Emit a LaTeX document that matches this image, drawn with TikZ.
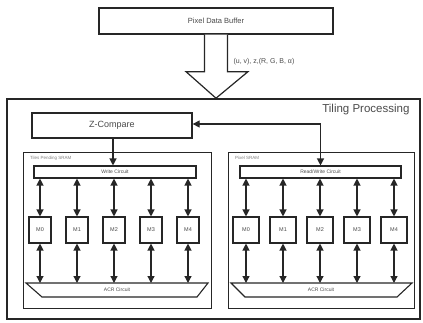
\documentclass[tikz,border=0pt]{standalone}
\usepackage{fontspec}
\setmainfont{Liberation Sans}
\usetikzlibrary{arrows.meta}

\definecolor{ink}{HTML}{262626}
\definecolor{txt}{HTML}{4A4A4A}

\tikzset{
  box/.style={draw=ink, line width=1.3pt, fill=white, inner sep=0pt, text=txt},
  panel/.style={draw=ink, line width=1pt, inner sep=0pt},
  cell/.style={draw=ink, line width=1.1pt, fill=white, inner sep=0pt, text=txt,
               minimum height=26pt, font=\fontsize{5.5}{6}\selectfont},
  link/.style={draw=ink, line width=1.2pt},
  tip/.style={-{Triangle[width=7pt,length=7pt]}},
  twotip/.style={{Triangle[width=7pt,length=7pt]}-{Triangle[width=7pt,length=7pt]}},
  tiny/.style={font=\fontsize{4.5}{5}\selectfont, text=txt!70}
}

\begin{document}
\begin{tikzpicture}[x=1pt, y=-1pt]
\useasboundingbox (0,0) rectangle (423,322);

% input buffer
\node[box, minimum width=234pt, minimum height=26pt, font=\fontsize{7.5}{8}\selectfont]
  (pdb) at (216,21) {Pixel Data Buffer};

% outer tiling processing block
\node[draw=ink, line width=1.6pt, minimum width=413pt, minimum height=220pt, inner sep=0pt]
  (tp) at (213.5,209) {};
\node[anchor=east, text=txt, font=\fontsize{11.5}{12}\selectfont] (tplabel) at (413,110) {Tiling Processing};

% hollow block arrow from the buffer into the tiling block
\coordinate (tip) at (pdb.south |- tp.north);
\draw[draw=ink, line width=1.2pt, fill=white, line join=miter]
  ([xshift=-11.5pt]pdb.south) -- ([xshift=-11.5pt,yshift=-37pt]pdb.south)
  -- ([xshift=-30pt,yshift=-37pt]pdb.south) -- (tip)
  -- ([xshift=32pt,yshift=-37pt]pdb.south) -- ([xshift=11.5pt,yshift=-37pt]pdb.south)
  -- ([xshift=11.5pt]pdb.south);
\node[anchor=west, text=txt, font=\fontsize{7}{8}\selectfont] (data) at (230,62)
  {(u, v), z,(R, G, B, α)};

% Z-compare
\node[box, minimum width=160pt, minimum height=25pt, font=\fontsize{9}{10}\selectfont]
  (zc) at (112,125.5) {Z-Compare};

% SRAM panels
\node[panel, minimum width=188pt, minimum height=156pt] (sramL) at (117,230) {};
\node[panel, minimum width=186pt, minimum height=156pt] (sramR) at (321,230) {};
\node[tiny, anchor=north west] (sramLlabel) at ([xshift=4pt,yshift=-1pt]sramL.north west) {Tiles Pending SRAM};
\node[tiny, anchor=north west] (sramRlabel) at ([xshift=4pt,yshift=-1pt]sramR.north west) {Pixel SRAM};

% write circuits
\node[box, line width=1.1pt, minimum width=162pt, minimum height=12pt, font=\fontsize{5}{6}\selectfont]
  (wc) at (115,172) {Write Circuit};
\node[box, line width=1.1pt, minimum width=161pt, minimum height=12pt, font=\fontsize{5}{6}\selectfont]
  (rw) at (320.5,172) {Read/Write Circuit};

% ACR circuits (inverted trapezoids)
\draw[draw=ink, line width=1.1pt, fill=white] (26,283) -- (208,283) -- (197,297) -- (42,297) -- cycle;
\draw[draw=ink, line width=1.1pt, fill=white] (231,283) -- (412,283) -- (397,297) -- (245,297) -- cycle;
\node[text=txt, font=\fontsize{5}{6}\selectfont] (acrL) at (117,289.5) {ACR Circuit};
\node[text=txt, font=\fontsize{5}{6}\selectfont] (acrR) at (321,289.5) {ACR Circuit};
\coordinate (acrLtop) at (117,283);
\coordinate (acrRtop) at (321,283);

% memory banks
\foreach \i/\x in {0/40,1/77,2/114,3/151,4/188}{
  \node[cell, minimum width=22pt] (l\i) at (\x,230) {M\i};
  \draw[link, twotip] (l\i |- wc.south) -- (l\i.north);
  \draw[link, twotip] (l\i.south) -- (l\i |- acrLtop);
}
\foreach \i/\x in {0/246,1/283,2/320,3/357,4/394}{
  \node[cell, minimum width=26pt] (r\i) at (\x,230) {M\i};
  \draw[link, twotip] (r\i |- rw.south) -- (r\i.north);
  \draw[link, twotip] (r\i.south) -- (r\i |- acrRtop);
}

% control paths
\draw[link, tip] ([xshift=1pt]zc.south) -- ([xshift=1pt]zc.south |- wc.north);
\draw[link, twotip] ([yshift=1.5pt]zc.east) -- ([yshift=1.5pt]rw.north |- zc.east) -- (rw.north);

\end{tikzpicture}
\end{document}
